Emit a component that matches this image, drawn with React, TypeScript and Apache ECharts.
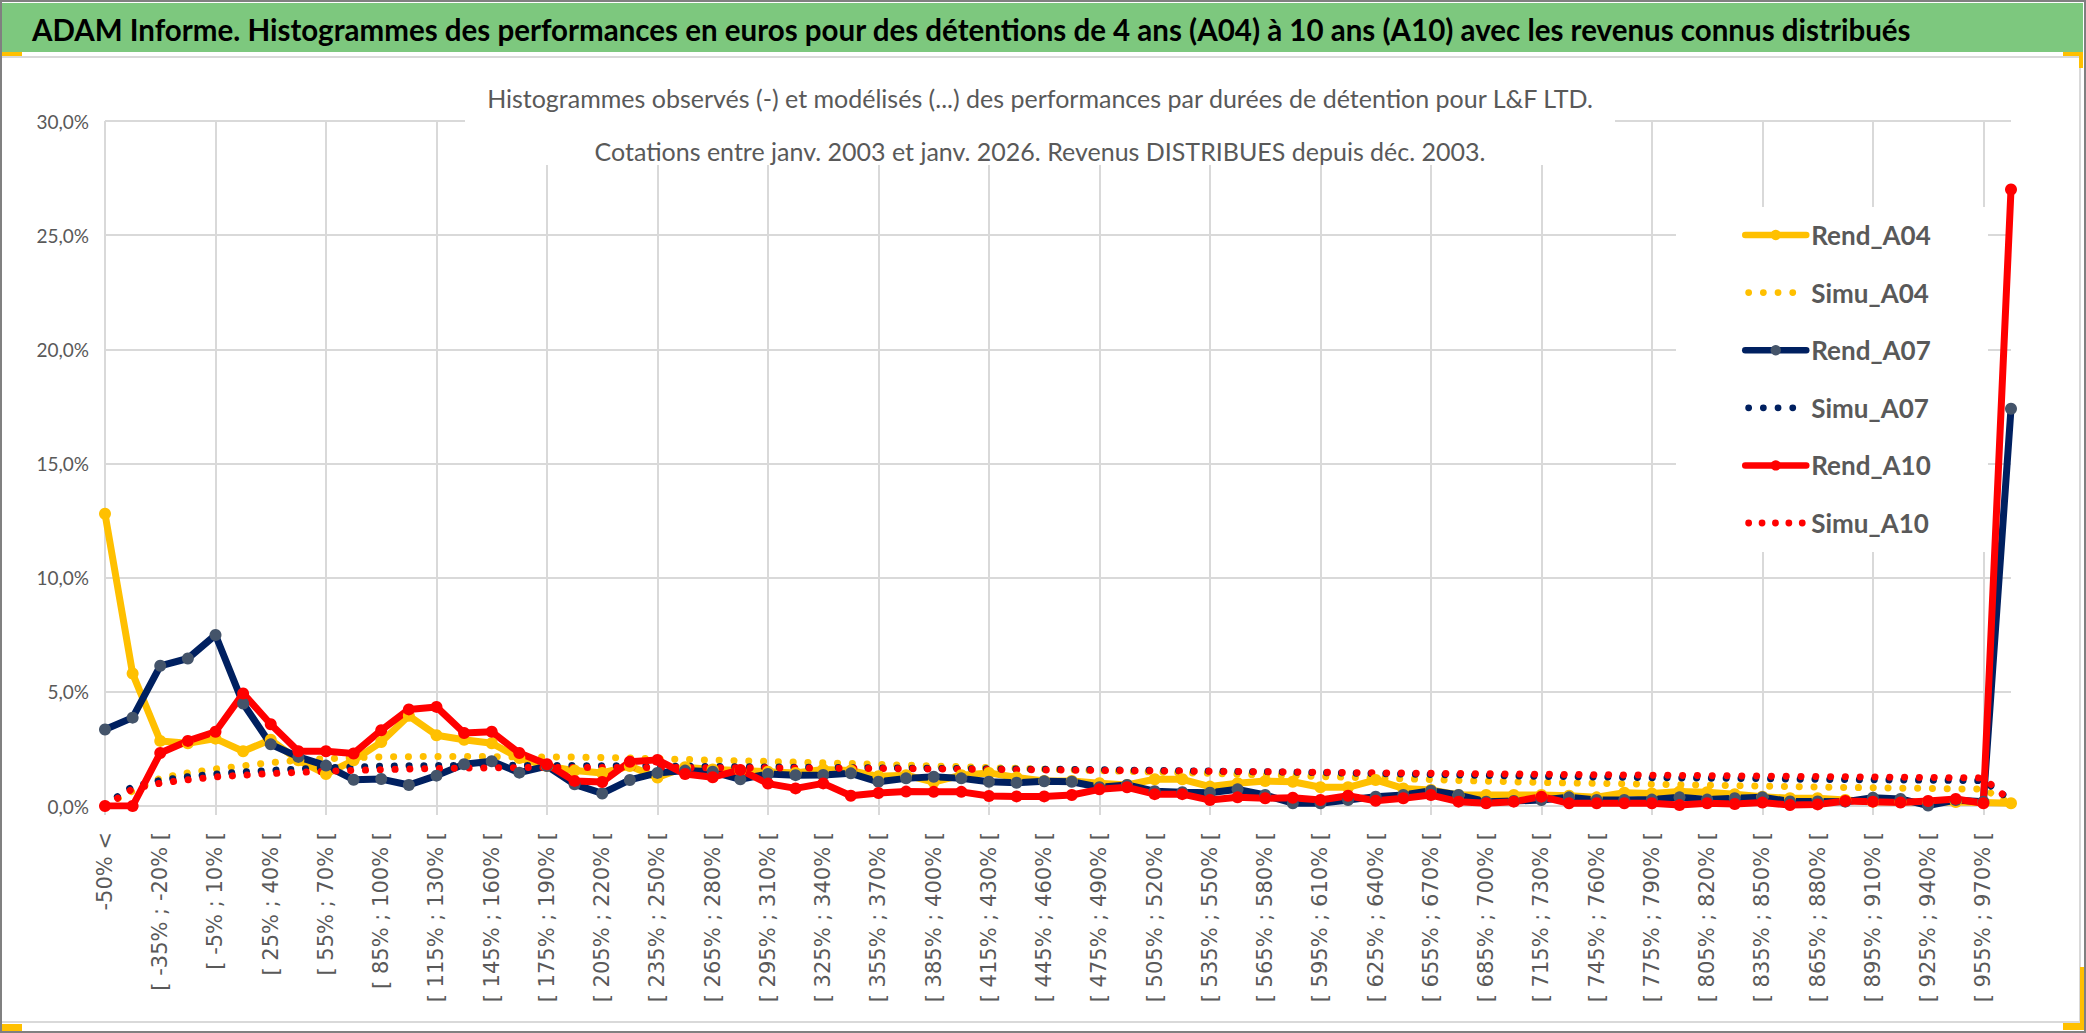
import React, { useEffect, useRef } from "react";
import * as echarts from "echarts";

const MAIN_TITLE =
  "ADAM Informe. Histogrammes des performances en euros pour des détentions de 4 ans (A04) à 10 ans (A10) avec les revenus connus distribués";
const SUBTITLE_LINE_1 =
  "Histogrammes observés (-) et modélisés (...) des performances par durées de détention pour L&F LTD.";
const SUBTITLE_LINE_2 =
  "Cotations entre janv. 2003 et janv. 2026. Revenus DISTRIBUES depuis déc. 2003.";

// category bins: "-50% <", then 15%-wide bins from -50% to 970%, then the open last bin
const BIN_STARTS = Array.from({ length: 68 }, (_, k) => -50 + 15 * k);
const CATEGORIES = [
  "-50% <",
  ...BIN_STARTS.map((a) => `[ ${a}% ; ${a + 15}% [`),
  "970% >",
];

const Y_MIN = 0;
const Y_MAX = 30;
const Y_STEP = 5;

const SERIES_NAMES = ["Rend_A04", "Simu_A04", "Rend_A07", "Simu_A07", "Rend_A10", "Simu_A10"];

const REND_A04 = [
  12.8, 5.8, 2.85, 2.75, 2.95, 2.4, 2.9, 2.0, 1.4, 2.0,
  2.8, 3.95, 3.1, 2.9, 2.75, 2.1, 1.75, 1.55, 1.45, 1.75,
  1.25, 1.7, 1.6, 1.55, 1.5, 1.45, 1.6, 1.55, 1.3, 1.35,
  1.05, 1.35, 1.45, 1.25, 1.1, 1.1, 1.0, 0.92, 1.17, 1.17,
  0.85, 1.0, 1.09, 1.06, 0.82, 0.82, 1.14, 0.77, 0.7, 0.48,
  0.48, 0.48, 0.48, 0.45, 0.38, 0.58, 0.55, 0.63, 0.6, 0.52,
  0.41, 0.34, 0.34, 0.26, 0.19, 0.19, 0.18, 0.17, 0.15, 0.12,
];

const SIMU_A04 = [
  0.05, 0.65, 1.22, 1.45, 1.62, 1.76, 1.9, 2.0, 2.07, 2.12,
  2.15, 2.16, 2.17, 2.17, 2.16, 2.15, 2.15, 2.14, 2.12, 2.1,
  2.07, 2.04, 2.01, 1.98, 1.95, 1.92, 1.89, 1.86, 1.82, 1.79,
  1.75, 1.72, 1.68, 1.65, 1.61, 1.58, 1.55, 1.52, 1.49, 1.46,
  1.43, 1.39, 1.36, 1.33, 1.29, 1.26, 1.22, 1.19, 1.16, 1.12,
  1.09, 1.06, 1.03, 1.01, 0.99, 0.97, 0.95, 0.93, 0.91, 0.89,
  0.87, 0.85, 0.83, 0.81, 0.8, 0.78, 0.77, 0.75, 0.74, 0.1,
];

const REND_A07 = [
  3.35, 3.87, 6.14, 6.46, 7.49, 4.49, 2.7, 2.15, 1.77, 1.15,
  1.18, 0.92, 1.33, 1.83, 1.96, 1.46, 1.75, 0.95, 0.55, 1.14,
  1.45, 1.55, 1.5, 1.17, 1.4, 1.35, 1.36, 1.43, 1.06, 1.21,
  1.28, 1.21, 1.06, 1.02, 1.08, 1.06, 0.82, 0.92, 0.65, 0.6,
  0.58, 0.73, 0.48, 0.12, 0.12, 0.26, 0.41, 0.48, 0.67, 0.48,
  0.19, 0.22, 0.26, 0.38, 0.26, 0.26, 0.28, 0.38, 0.28, 0.34,
  0.38, 0.2, 0.2, 0.19, 0.36, 0.31, 0.02, 0.26, 0.19, 17.4,
];

const SIMU_A07 = [
  0.05, 0.85, 1.12, 1.28, 1.4, 1.49, 1.56, 1.62, 1.67, 1.71,
  1.74, 1.76, 1.77, 1.78, 1.78, 1.78, 1.77, 1.77, 1.76, 1.76,
  1.75, 1.74, 1.73, 1.72, 1.71, 1.7, 1.69, 1.68, 1.67, 1.66,
  1.65, 1.64, 1.63, 1.62, 1.61, 1.6, 1.59, 1.57, 1.56, 1.54,
  1.53, 1.51, 1.5, 1.48, 1.46, 1.44, 1.42, 1.4, 1.38, 1.36,
  1.34, 1.32, 1.3, 1.29, 1.27, 1.26, 1.24, 1.23, 1.22, 1.21,
  1.2, 1.18, 1.17, 1.16, 1.15, 1.14, 1.13, 1.12, 1.11, 0.25,
];

const REND_A10 = [
  0, 0, 2.32, 2.85, 3.25, 4.93, 3.58, 2.4, 2.4, 2.3,
  3.32, 4.23, 4.34, 3.2, 3.25, 2.32, 1.83, 1.1, 1.05, 1.94,
  2.02, 1.4, 1.26, 1.58, 0.98, 0.77, 0.99, 0.45, 0.57, 0.63,
  0.62, 0.62, 0.44, 0.42, 0.42, 0.48, 0.73, 0.82, 0.52, 0.52,
  0.26, 0.38, 0.34, 0.36, 0.26, 0.45, 0.23, 0.34, 0.48, 0.19,
  0.12, 0.19, 0.41, 0.12, 0.12, 0.12, 0.12, 0.04, 0.12, 0.09,
  0.15, 0.04, 0.07, 0.22, 0.19, 0.15, 0.22, 0.31, 0.12, 27.0,
];

const SIMU_A10 = [
  0, 0.75, 1.0, 1.15, 1.27, 1.35, 1.42, 1.47, 1.52, 1.56,
  1.59, 1.62, 1.64, 1.66, 1.67, 1.68, 1.69, 1.69, 1.69, 1.69,
  1.69, 1.68, 1.68, 1.67, 1.67, 1.66, 1.66, 1.65, 1.64, 1.63,
  1.62, 1.61, 1.6, 1.59, 1.58, 1.57, 1.56, 1.55, 1.54, 1.53,
  1.52, 1.51, 1.5, 1.49, 1.48, 1.46, 1.45, 1.44, 1.43, 1.42,
  1.41, 1.4, 1.39, 1.38, 1.37, 1.36, 1.35, 1.34, 1.33, 1.32,
  1.31, 1.3, 1.29, 1.28, 1.27, 1.26, 1.25, 1.24, 1.23, 0.2,
];

const GOLD = "#FFC000";
const NAVY = "#002060";
const NAVY_MARKER = "#44546A";
const RED = "#FF0000";
const GRID_COLOR = "#d9d9d9";
const TEXT_GRAY = "#595959";

function dotsIcon(centers: number[]): string {
  let d = "path://M0 0 M61 13 ";
  centers.forEach((cx) => {
    d += `M${cx - 3.4} 6.5 a3.4 3.4 0 1 0 6.8 0 a3.4 3.4 0 1 0 -6.8 0 Z `;
  });
  return d;
}

const DOTS_4 = dotsIcon([3.4, 18.1, 32.8, 47.5]);
const DOTS_5 = dotsIcon([3.4, 16.8, 30.2, 43.6, 57]);

function rendSeries(name: string, data: number[], line: string, marker: string) {
  return {
    name,
    type: "line",
    data,
    smooth: false,
    symbol: "circle",
    symbolSize: 12,
    showAllSymbol: true,
    itemStyle: { color: marker },
    lineStyle: { color: line, width: 7, cap: "round", join: "round" },
    emphasis: { disabled: true },
  };
}

function simuSeries(name: string, data: number[], color: string) {
  return {
    name,
    type: "line",
    data,
    smooth: false,
    symbol: "none",
    showSymbol: false,
    itemStyle: { color },
    lineStyle: { color, width: 7, type: [0.1, 14.7], cap: "round", join: "round" },
    emphasis: { disabled: true },
  };
}

export default function App() {
  const ref = useRef<HTMLDivElement>(null);

  useEffect(() => {
    document.body.style.margin = "0";
    document.body.style.overflow = "hidden";
    if (!ref.current) return;
    const chart = echarts.init(ref.current, null, { renderer: "svg", width: 2086, height: 1033 });

    const option: any = {
      animation: false,
      backgroundColor: "#ffffff",
      textStyle: { fontFamily: "Lato" },
      grid: {
        left: 105,
        top: 121,
        width: 1906,
        height: 685,
        containLabel: false,
        outerBoundsMode: "none",
      },
      xAxis: {
        type: "category",
        data: CATEGORIES,
        boundaryGap: false,
        axisLine: { show: true, lineStyle: { color: GRID_COLOR, width: 2 } },
        axisTick: { show: true, interval: 3, length: 9, lineStyle: { color: GRID_COLOR, width: 2 } },
        axisLabel: {
          interval: 1,
          rotate: 90,
          margin: 26,
          fontFamily: "DejaVu Sans",
          fontSize: 21,
          color: TEXT_GRAY,
        },
        splitLine: { show: true, interval: 3, lineStyle: { color: GRID_COLOR, width: 2 } },
      },
      yAxis: {
        type: "value",
        min: Y_MIN,
        max: Y_MAX,
        interval: Y_STEP,
        axisLine: { show: false },
        axisTick: { show: false },
        axisLabel: {
          formatter: (v: number) => v.toFixed(1).replace(".", ",") + "%",
          fontFamily: "Lato",
          fontSize: 19,
          color: TEXT_GRAY,
          margin: 16,
        },
        splitLine: { show: true, lineStyle: { color: GRID_COLOR, width: 2 } },
      },
      legend: {
        orient: "vertical",
        left: 1742,
        top: 220,
        padding: 0,
        itemWidth: 61,
        itemHeight: 13,
        itemGap: 27.6,
        selectedMode: false,
        lineStyle: { width: 6.5, cap: "round" },
        textStyle: {
          fontFamily: "Lato",
          fontWeight: "bold",
          fontSize: 26,
          lineHeight: 30,
          color: TEXT_GRAY,
        },
        data: [
          { name: SERIES_NAMES[0] },
          { name: SERIES_NAMES[1], icon: DOTS_4 },
          { name: SERIES_NAMES[2] },
          { name: SERIES_NAMES[3], icon: DOTS_4 },
          { name: SERIES_NAMES[4] },
          { name: SERIES_NAMES[5], icon: DOTS_5 },
        ],
      },
      graphic: {
        elements: [
          { type: "rect", z: -10, silent: true, shape: { x: 0, y: 0, width: 2086, height: 1033 }, style: { fill: "#ffffff" } },
          { type: "rect", z: -9, silent: true, shape: { x: 1, y: 57, width: 2079, height: 965 }, style: { fill: "#ffffff", stroke: GRID_COLOR, lineWidth: 2 } },
          { type: "rect", z: -9, silent: true, shape: { x: 1, y: 3, width: 2082, height: 49 }, style: { fill: "#7DC87E" } },
          { type: "rect", z: 1, silent: true, shape: { x: 465, y: 59, width: 1150, height: 106 }, style: { fill: "#ffffff" } },
          { type: "rect", z: 1, silent: true, shape: { x: 1676, y: 207, width: 312, height: 345 }, style: { fill: "#ffffff" } },
          // selection handles
          { type: "rect", z: 8, silent: true, shape: { x: 0, y: 52, width: 22, height: 4 }, style: { fill: GOLD } },
          { type: "rect", z: 8, silent: true, shape: { x: 2063, y: 52, width: 20, height: 4 }, style: { fill: GOLD } },
          { type: "rect", z: 8, silent: true, shape: { x: 2079, y: 52, width: 4, height: 16 }, style: { fill: GOLD } },
          { type: "rect", z: 8, silent: true, shape: { x: 1, y: 1024, width: 21, height: 7 }, style: { fill: GOLD } },
          { type: "rect", z: 8, silent: true, shape: { x: 2063, y: 1023, width: 22, height: 7 }, style: { fill: GOLD } },
          { type: "rect", z: 8, silent: true, shape: { x: 2080, y: 967, width: 5, height: 63 }, style: { fill: GOLD } },
          { type: "rect", z: 9, silent: true, shape: { x: 1, y: 1, width: 2084, height: 1031 }, style: { fill: "none", stroke: "#808080", lineWidth: 2 } },
          {
            type: "text",
            z: 6,
            x: 32,
            y: 29,
            style: { text: MAIN_TITLE, font: "bold 29.5px Lato", fill: "#000000", align: "left", verticalAlign: "middle" },
          },
          {
            type: "text",
            z: 6,
            x: 1040,
            y: 98,
            style: { text: SUBTITLE_LINE_1, font: "25px Lato", fill: TEXT_GRAY, align: "center", verticalAlign: "middle" },
          },
          {
            type: "text",
            z: 6,
            x: 1040,
            y: 151,
            style: { text: SUBTITLE_LINE_2, font: "25px Lato", fill: TEXT_GRAY, align: "center", verticalAlign: "middle" },
          },
        ],
      },
      series: [
        rendSeries(SERIES_NAMES[0], REND_A04, GOLD, GOLD),
        simuSeries(SERIES_NAMES[1], SIMU_A04, GOLD),
        rendSeries(SERIES_NAMES[2], REND_A07, NAVY, NAVY_MARKER),
        simuSeries(SERIES_NAMES[3], SIMU_A07, NAVY),
        rendSeries(SERIES_NAMES[4], REND_A10, RED, RED),
        simuSeries(SERIES_NAMES[5], SIMU_A10, RED),
      ],
    };

    chart.setOption(option);
    return () => {
      chart.dispose();
    };
  }, []);

  return <div ref={ref} style={{ width: 2086, height: 1033 }} />;
}
